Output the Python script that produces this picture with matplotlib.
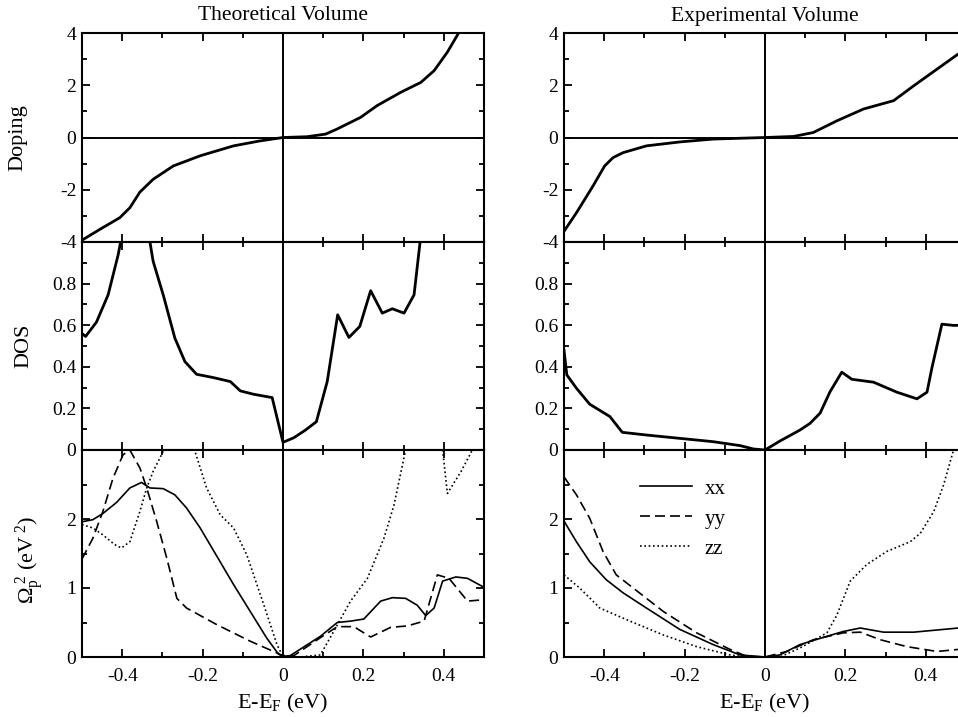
import matplotlib
matplotlib.use('Agg')
import matplotlib.pyplot as plt
from matplotlib.ticker import MultipleLocator

plt.rcParams['font.family'] = ['Liberation Serif', 'DejaVu Serif']
plt.rcParams['mathtext.fontset'] = 'custom'
plt.rcParams['mathtext.rm'] = 'Liberation Serif'
plt.rcParams['mathtext.it'] = 'Liberation Serif:italic'
plt.rcParams['mathtext.default'] = 'regular'
plt.rcParams['axes.unicode_minus'] = False

# Doping, theoretical volume
dop_th_x = [-0.5, -0.456, -0.406, -0.381, -0.356, -0.323, -0.273, -0.206, -0.123, -0.057, 0.0,
            0.06, 0.106, 0.134, 0.193, 0.234, 0.293, 0.343, 0.376, 0.409, 0.438]
dop_th_y = [-3.93, -3.52, -3.07, -2.69, -2.09, -1.60, -1.09, -0.70, -0.32, -0.13, 0.0,
            0.03, 0.13, 0.32, 0.77, 1.22, 1.73, 2.11, 2.56, 3.27, 4.03]
# Doping, experimental volume
dop_ex_x = [-0.5, -0.469, -0.428, -0.399, -0.378, -0.353, -0.295, -0.212, -0.129, 0.0,
            0.071, 0.120, 0.179, 0.245, 0.320, 0.370, 0.481, 0.5]
dop_ex_y = [-3.59, -2.88, -1.86, -1.09, -0.77, -0.58, -0.32, -0.17, -0.06, 0.0,
            0.04, 0.19, 0.64, 1.09, 1.41, 1.98, 3.20, 3.45]

# DOS, theoretical volume
dos_th_x = [-0.5, -0.491, -0.464, -0.435, -0.410, -0.404, -0.367, -0.331, -0.323, -0.298, -0.269,
            -0.244, -0.215, -0.173, -0.131, -0.106, -0.073, -0.027, 0.0, 0.027, 0.056, 0.083,
            0.110, 0.136, 0.164, 0.191, 0.218, 0.247, 0.272, 0.301, 0.326, 0.341, 0.36]
dos_th_y = [0.56, 0.546, 0.615, 0.746, 0.939, 1.0, 1.25, 1.0, 0.907, 0.746, 0.538,
            0.425, 0.364, 0.348, 0.329, 0.284, 0.268, 0.252, 0.037, 0.059, 0.096, 0.136,
            0.329, 0.650, 0.541, 0.594, 0.766, 0.658, 0.679, 0.658, 0.746, 1.0, 1.3]
# DOS, experimental volume
dos_ex_x = [-0.5, -0.493, -0.469, -0.436, -0.386, -0.355, -0.295, -0.212, -0.129, -0.062, -0.029,
            0.0, 0.037, 0.087, 0.112, 0.137, 0.162, 0.191, 0.216, 0.270, 0.328, 0.378, 0.403,
            0.415, 0.440, 0.469, 0.5]
dos_ex_y = [0.48, 0.361, 0.297, 0.220, 0.161, 0.085, 0.072, 0.056, 0.040, 0.021, 0.005,
            0.0, 0.043, 0.096, 0.128, 0.177, 0.281, 0.374, 0.340, 0.326, 0.278, 0.246, 0.278,
            0.393, 0.605, 0.599, 0.60]

# Plasma frequency, theoretical volume
wp_th_x_xx = [-0.5, -0.473, -0.448, -0.414, -0.381, -0.352, -0.331, -0.298, -0.269, -0.240, -0.206,
              -0.123, -0.040, -0.011, 0.0, 0.018, 0.093, 0.135, 0.168, 0.201, 0.243, 0.272, 0.305,
              0.334, 0.355, 0.376, 0.397, 0.430, 0.459, 0.5]
wp_th_xx = [1.96, 1.99, 2.08, 2.24, 2.45, 2.53, 2.45, 2.44, 2.35, 2.16, 1.87,
            1.05, 0.27, 0.04, 0.01, 0.02, 0.30, 0.50, 0.52, 0.55, 0.81, 0.86, 0.85,
            0.75, 0.60, 0.71, 1.10, 1.16, 1.14, 1.01]
wp_th_x_yy = [-0.5, -0.473, -0.448, -0.423, -0.398, -0.381, -0.356, -0.339, -0.314, -0.289, -0.264,
              -0.240, -0.165, -0.082, 0.0, 0.027, 0.093, 0.135, 0.176, 0.218, 0.268, 0.309, 0.351,
              0.384, 0.413, 0.459, 0.5]
wp_th_yy = [1.42, 1.72, 2.11, 2.59, 2.93, 3.0, 2.74, 2.45, 1.96, 1.43, 0.85,
            0.71, 0.47, 0.23, 0.02, 0.02, 0.28, 0.44, 0.44, 0.29, 0.43, 0.45, 0.52,
            1.19, 1.14, 0.81, 0.83]
wp_th_x_zz = [-0.5, -0.473, -0.448, -0.419, -0.402, -0.381, -0.356, -0.339, -0.323, -0.298, -0.26,
              -0.219, -0.190, -0.156, -0.123, -0.090, -0.048, -0.015, 0.0, 0.043, 0.093, 0.126,
              0.168, 0.210, 0.251, 0.276, 0.305, 0.35, 0.397, 0.409, 0.443, 0.471, 0.5]
wp_th_zz = [1.92, 1.87, 1.77, 1.63, 1.58, 1.67, 2.11, 2.45, 2.69, 2.98, 3.4,
            2.98, 2.45, 2.06, 1.87, 1.48, 0.76, 0.18, 0.0, 0.0, 0.03, 0.37,
            0.81, 1.14, 1.72, 2.20, 3.0, 3.8, 3.0, 2.37, 2.69, 3.0, 3.3]

# Plasma frequency, experimental volume
wp_ex_x_xx = [-0.5, -0.469, -0.436, -0.395, -0.353, -0.295, -0.212, -0.129, -0.062, 0.0,
              0.037, 0.087, 0.154, 0.195, 0.237, 0.295, 0.370, 0.481, 0.5]
wp_ex_xx = [1.97, 1.67, 1.38, 1.12, 0.93, 0.71, 0.40, 0.18, 0.03, 0.0,
            0.03, 0.18, 0.30, 0.37, 0.42, 0.36, 0.36, 0.42, 0.43]
wp_ex_x_yy = [-0.5, -0.469, -0.436, -0.403, -0.370, -0.328, -0.253, -0.170, -0.087, -0.046, 0.0,
              0.054, 0.120, 0.195, 0.237, 0.287, 0.353, 0.428, 0.481, 0.5]
wp_ex_yy = [2.61, 2.35, 2.01, 1.53, 1.19, 1.00, 0.66, 0.35, 0.11, 0.01, 0.0,
            0.08, 0.25, 0.35, 0.36, 0.25, 0.15, 0.08, 0.11, 0.12]
wp_ex_x_zz = [-0.5, -0.461, -0.411, -0.336, -0.253, -0.170, -0.087, -0.046, 0.0, 0.037, 0.087,
              0.154, 0.179, 0.212, 0.253, 0.303, 0.361, 0.386, 0.420, 0.444, 0.469, 0.5]
wp_ex_zz = [1.19, 1.00, 0.71, 0.52, 0.32, 0.15, 0.03, 0.0, 0.0, 0.0, 0.13,
            0.35, 0.61, 1.10, 1.34, 1.53, 1.67, 1.79, 2.11, 2.49, 3.0, 3.4]

titles = ['Theoretical Volume', 'Experimental Volume']

fig = plt.figure(figsize=(9.58, 7.17), dpi=100)

lefts = [82 / 958, 564 / 958]
width = 402 / 958
rows = [(1 - 242 / 717, 209 / 717), (1 - 450 / 717, 208 / 717), (1 - 657 / 717, 207 / 717)]

axes = [[fig.add_axes([l, r[0], width, r[1]]) for l in lefts] for r in rows]

thick = 2.0
thin = 1.2
dash = (0, (6, 3))
dots = (0, (1, 1.6))

for c in range(2):
    a_dop, a_dos, a_wp = axes[0][c], axes[1][c], axes[2][c]
    if c == 0:
        a_dop.plot(dop_th_x, dop_th_y, color='k', lw=thick)
        a_dos.plot(dos_th_x, dos_th_y, color='k', lw=thick)
        a_wp.plot(wp_th_x_xx, wp_th_xx, color='k', lw=thin, label='xx')
        a_wp.plot(wp_th_x_yy, wp_th_yy, color='k', lw=thin, ls=dash, label='yy')
        a_wp.plot(wp_th_x_zz, wp_th_zz, color='k', lw=thin, ls=dots, label='zz')
    else:
        a_dop.plot(dop_ex_x, dop_ex_y, color='k', lw=thick)
        a_dos.plot(dos_ex_x, dos_ex_y, color='k', lw=thick)
        a_wp.plot(wp_ex_x_xx, wp_ex_xx, color='k', lw=thin, label='xx')
        a_wp.plot(wp_ex_x_yy, wp_ex_yy, color='k', lw=thin, ls=dash, label='yy')
        a_wp.plot(wp_ex_x_zz, wp_ex_zz, color='k', lw=thin, ls=dots, label='zz')

    a_dop.axhline(0, color='k', lw=1.4)
    a_dop.set_ylim(-4, 4)
    a_dop.set_yticks([-4, -2, 0, 2, 4])
    a_dop.yaxis.set_minor_locator(MultipleLocator(1))
    a_dop.set_title(titles[c], fontsize=15.5, pad=9)

    a_dos.set_ylim(0, 1)
    a_dos.set_yticks([0, 0.2, 0.4, 0.6, 0.8, 1.0])
    a_dos.set_yticklabels(['0', '0.2', '0.4', '0.6', '0.8', ''])
    a_dos.yaxis.set_minor_locator(MultipleLocator(0.1))

    a_wp.set_ylim(0, 3)
    a_wp.set_yticks([0, 1, 2, 3])
    a_wp.set_yticklabels(['0', '1', '2', ''])
    a_wp.yaxis.set_minor_locator(MultipleLocator(0.5))
    a_wp.set_xlabel('E-E$_F$ (eV)', fontsize=16, labelpad=5)

    for r in range(3):
        ax = axes[r][c]
        ax.axvline(0, color='k', lw=1.4)
        ax.set_xlim(-0.5, 0.5)
        ax.set_xticks([-0.4, -0.2, 0, 0.2, 0.4])
        ax.set_xticklabels(['-0.4', '-0.2', '0', '0.2', '0.4'])
        ax.xaxis.set_minor_locator(MultipleLocator(0.1))
        ax.tick_params(which='both', direction='in', top=True, right=True, labelsize=14, width=1.3)
        ax.tick_params(which='major', length=6)
        ax.tick_params(which='minor', length=3.5)
        ax.tick_params(axis='x', which='major', pad=8)
        ax.tick_params(axis='y', which='major', pad=4)
        if r < 2:
            ax.tick_params(labelbottom=False)
        for s in ax.spines.values():
            s.set_linewidth(1.5)

axes[0][0].set_ylabel('Doping', fontsize=16)
axes[0][0].yaxis.set_label_coords(-0.135, 0.5)
axes[1][0].set_ylabel('DOS', fontsize=16)
axes[1][0].yaxis.set_label_coords(-0.122, 0.5)
axes[2][0].set_ylabel(r'$\Omega_{p}^{\ 2}$ (eV$^{\ 2}$)', fontsize=16)
axes[2][0].yaxis.set_label_coords(-0.09, 0.47)

axes[2][1].legend(loc='upper left', bbox_to_anchor=(0.19, 0.86), frameon=False, fontsize=15,
                  handlelength=2.5, handletextpad=0.6, labelspacing=0.5, borderpad=0,
                  borderaxespad=0)

fig.savefig('out.png', dpi=100)
